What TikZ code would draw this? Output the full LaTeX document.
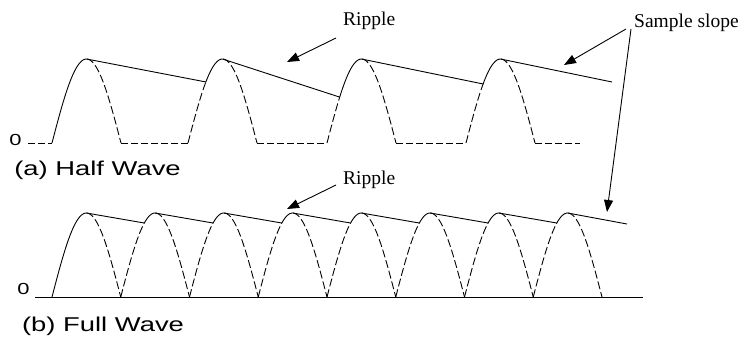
\documentclass[tikz,border=0pt]{standalone}
\usepackage{fontspec}
\setmainfont{Liberation Serif}
\newfontfamily\labelsans{Liberation Sans}
\usepackage{graphicx}
\usetikzlibrary{arrows.meta}
\tikzset{
  >={Triangle[length=12pt,width=9pt]},
  wave/.style={line width=0.9pt, samples=40},
  hidden/.style={wave, dash pattern=on 8pt off 3pt},
  slope/.style={line width=0.9pt},
  axis0/.style={line width=0.9pt},
  callout/.style={font=\fontsize{19.5}{22}\selectfont, inner sep=0pt},
  pointer/.style={->, line width=0.9pt},
  caption/.style={font=\labelsans\fontsize{20}{24}\selectfont, inner sep=0pt},
  zero/.style={font=\labelsans\fontsize{16}{18}\selectfont, inner sep=0pt},
}
\newcommand{\wide}[1]{\scalebox{1.37}[1]{#1}}

\begin{document}
\begin{tikzpicture}[x=1pt, y=-1pt]
  \useasboundingbox (0,0) rectangle (746,338);
  % (a) half wave
  \def\hb{143} \def\hh{84} \def\hw{69}
  \draw[axis0, dash pattern=on 7pt off 3pt] (28,\hb) -- (52,\hb);
  \coordinate (hs1) at (52,\hb);
  \coordinate (hp1) at ({52+\hw/2},{\hb-\hh});
  \draw[wave] plot[domain=0:0.5] ({52+\hw*\x},{\hb-\hh*sin(180*\x)});
  \draw[hidden] plot[domain=0.5:1] ({52+\hw*\x},{\hb-\hh*sin(180*\x)});
  \foreach \xs/\tc [count=\i from 2] in {188/0.259, 327/0.184, 466/0.248} {
    \coordinate (hs\i) at ({\xs+\hw*\tc},{\hb-\hh*sin(180*\tc)});
    \coordinate (hp\i) at ({\xs+\hw/2},{\hb-\hh});
    \draw[hidden] plot[domain=0:\tc] ({\xs+\hw*\x},{\hb-\hh*sin(180*\x)});
    \draw[wave] plot[domain=\tc:0.5] ({\xs+\hw*\x},{\hb-\hh*sin(180*\x)});
    \draw[hidden] plot[domain=0.5:1] ({\xs+\hw*\x},{\hb-\hh*sin(180*\x)});
  }
  % zero level between the pulses
  \foreach \xa/\xb in {121/188, 257/327, 396/466, 535/580}
    \draw[axis0, dash pattern=on 7pt off 3pt] (\xa,\hb) -- (\xb,\hb);
  \coordinate (hend) at (612,82);
  \foreach \a/\b in {1/2, 2/3, 3/4} \draw[slope] (hp\a) -- (hs\b);
  \draw[slope] (hp4) -- (hend);

  % (b) full wave
  \def\fb{297} \def\fh{84} \def\fw{68.75}
  \def\ft{0.343}
  \coordinate (fa0) at (35,\fb);
  \coordinate (fa1) at (643,\fb);
  \draw[axis0] (fa0) -- (fa1);
  \coordinate (fs1) at (52,\fb);
  \coordinate (fp1) at ({52+\fw/2},{\fb-\fh});
  \draw[wave] plot[domain=0:0.5] ({52+\fw*\x},{\fb-\fh*sin(180*\x)});
  \draw[hidden] plot[domain=0.5:1] ({52+\fw*\x},{\fb-\fh*sin(180*\x)});
  \foreach \i in {2,...,8} {
    \pgfmathsetmacro{\xs}{52+\fw*(\i-1)}
    \coordinate (fs\i) at ({\xs+\fw*\ft},{\fb-\fh*sin(180*\ft)});
    \coordinate (fp\i) at ({\xs+\fw/2},{\fb-\fh});
    \draw[hidden] plot[domain=0:\ft] ({\xs+\fw*\x},{\fb-\fh*sin(180*\x)});
    \draw[wave] plot[domain=\ft:0.5] ({\xs+\fw*\x},{\fb-\fh*sin(180*\x)});
    \draw[hidden] plot[domain=0.5:1] ({\xs+\fw*\x},{\fb-\fh*sin(180*\x)});
  }
  \coordinate (fend) at (627,224);
  \foreach \a/\b in {1/2, 2/3, 3/4, 4/5, 5/6, 6/7, 7/8} \draw[slope] (fp\a) -- (fs\b);
  \draw[slope] (fp8) -- (fend);

  % labels
  \node[zero] (zeroa) at (15.5,140) {\wide{0}};
  \node[zero] (zerob) at (23.5,289) {\wide{0}};
  \node[caption, anchor=base] (capa) at (97.5,175) {\wide{(a) Half Wave}};
  \node[caption, anchor=base] (capb) at (103,331) {\wide{(b) Full Wave}};
  \node[callout, anchor=base west] (ripa) at (343,25) {Ripple};
  \node[callout, anchor=base west] (ripb) at (343,184) {Ripple};
  \node[callout, anchor=base west] (slp) at (634,27) {Sample slope};

  % pointers
  \coordinate (ripa-t) at (336,38);  \coordinate (ripa-h) at (287,62);
  \coordinate (ripb-t) at (336,185); \coordinate (ripb-h) at (287,209);
  \coordinate (slp-t1) at (626,29);  \coordinate (slp-h1) at (564,65);
  \coordinate (slp-t2) at (631,29);  \coordinate (slp-h2) at (607,212);
  \draw[pointer] (ripa-t) -- (ripa-h);
  \draw[pointer] (ripb-t) -- (ripb-h);
  \draw[pointer] (slp-t1) -- (slp-h1);
  \draw[pointer] (slp-t2) -- (slp-h2);
\end{tikzpicture}
\end{document}
